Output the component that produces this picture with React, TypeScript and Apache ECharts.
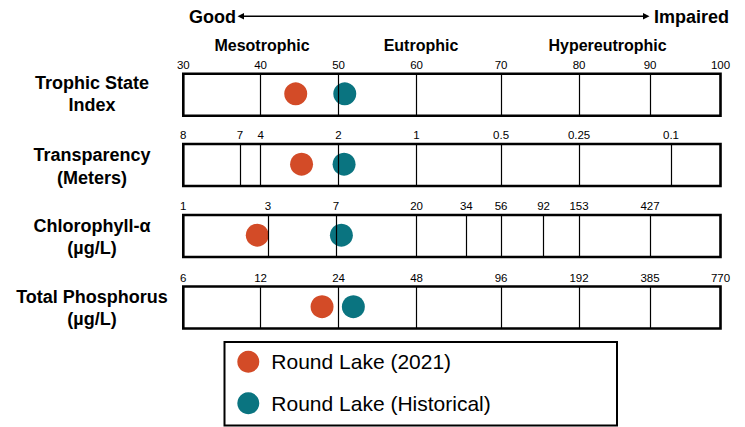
import React, { useEffect, useRef } from "react";
import * as echarts from "echarts";

// ---------- data ----------
const lakeNames = ["Round Lake (2021)", "Round Lake (Historical)"];
const rowTitles = ["Trophic State\nIndex", "Transparency\n(Meters)", "Chlorophyll-α\n(µg/L)", "Total Phosphorus\n(µg/L)"];
const zoneNames = ["Mesotrophic", "Eutrophic", "Hypereutrophic"];
const endLabels = ["Good", "Impaired"];

// tick labels per row and their position on the shared trophic-state scale (30..100)
const tsiLabels = ["30", "40", "50", "60", "70", "80", "90", "100"];
const tsiPos = [30, 40.07, 50.23, 60.39, 71.41, 81.57, 90.82, 100];
const secchiLabels = ["8", "7", "4", "2", "1", "0.5", "0.25", "0.1"];
const secchiPos = [30, 37.39, 40.07, 50.23, 60.39, 71.41, 81.57, 93.55];
const chlLabels = ["1", "3", "7", "20", "34", "56", "92", "153", "427"];
const chlPos = [30, 41.02, 49.9, 60.39, 66.88, 71.41, 76.94, 81.57, 90.82];
const tpLabels = ["6", "12", "24", "48", "96", "192", "385", "770"];
const tpPos = [30, 40.07, 50.23, 60.39, 71.41, 81.57, 90.82, 100];

// lake values expressed on the trophic-state scale, one per row
const round2021 = [44.65, 45.41, 39.64, 48.08];
const roundHistorical = [51.04, 50.95, 50.6, 52.16];

const rows = [
  { labels: tsiLabels, pos: tsiPos },
  { labels: secchiLabels, pos: secchiPos },
  { labels: chlLabels, pos: chlPos },
  { labels: tpLabels, pos: tpPos },
];

// ---------- style ----------
const FONT = '"Liberation Sans", Arial, Helvetica, sans-serif';
const ORANGE = "#D34B27";
const TEAL = "#0A7480";
const gridTops = [73.7, 144, 215, 286.5];
const gridLeft = 183.3;
const gridWidth = 537.2;
const gridHeight = 42;
const titleCenters = [94, 166.5, 237, 308];
const zoneCenters = [262, 421, 607.6];

export default function App() {
  const ref = useRef<HTMLDivElement>(null);

  useEffect(() => {
    if (!ref.current) return;
    const chart = echarts.init(ref.current, null, { renderer: "svg" });

    const grid = gridTops.map((top) => ({
      left: gridLeft,
      top,
      width: gridWidth,
      height: gridHeight,
      show: true,
      borderColor: "#000",
      borderWidth: 2.6,
      backgroundColor: "transparent",
    }));

    const xAxis = rows.map((r, i) => ({
      gridIndex: i,
      type: "value",
      min: 30,
      max: 100,
      position: "top",
      axisLine: { show: false },
      axisTick: { show: false },
      splitLine: { show: false },
      axisLabel: {
        customValues: r.pos,
        showMinLabel: true,
        showMaxLabel: true,
        formatter: (v: number) => {
          const k = r.pos.findIndex((p) => Math.abs(p - v) < 1e-6);
          return k >= 0 ? r.labels[k] : "";
        },
        fontSize: 11.5,
        color: "#000",
        fontFamily: FONT,
        margin: 3,
      },
    }));

    const yAxis = rows.map((_, i) => ({
      gridIndex: i,
      type: "value",
      min: 0,
      max: 1,
      show: false,
    }));

    const series: any[] = [];
    rows.forEach((r, i) => {
      const dividers = r.pos.filter((p) => p > 30 && p < 100);
      series.push({
        type: "scatter",
        name: "dividers" + i,
        xAxisIndex: i,
        yAxisIndex: i,
        data: [],
        silent: true,
        z: 1,
        markLine: {
          silent: true,
          symbol: ["none", "none"],
          label: { show: false },
          lineStyle: { color: "#000", width: 1.2, type: "solid" },
          emphasis: { disabled: true },
          data: dividers.map((v) => ({ xAxis: v })),
        },
      });
      series.push({
        type: "scatter",
        name: lakeNames[0],
        xAxisIndex: i,
        yAxisIndex: i,
        data: [[round2021[i], 0.52]],
        symbolSize: 23,
        itemStyle: { color: ORANGE, opacity: 1 },
        z: 3,
      });
      series.push({
        type: "scatter",
        name: lakeNames[1],
        xAxisIndex: i,
        yAxisIndex: i,
        data: [[roundHistorical[i], 0.52]],
        symbolSize: 23,
        itemStyle: { color: TEAL, opacity: 1 },
        z: 3,
      });
    });

    const txt = (text: string, x: number, y: number, size: number, weight: string, align: string, extra: any = {}) => ({
      type: "text",
      x,
      y,
      silent: true,
      style: {
        text,
        fill: "#000",
        fontSize: size,
        fontWeight: weight,
        fontFamily: FONT,
        align,
        verticalAlign: "middle",
        textAlign: align,
        textVerticalAlign: "middle",
        ...extra,
      },
    });

    const graphic: any[] = [
      txt(endLabels[0], 236, 16.5, 18, "bold", "right"),
      txt(endLabels[1], 654, 16.5, 18, "bold", "left"),
      {
        type: "line",
        silent: true,
        shape: { x1: 241, y1: 16.3, x2: 645, y2: 16.3 },
        style: { stroke: "#000", lineWidth: 1.5 },
      },
      {
        type: "polygon",
        silent: true,
        shape: { points: [[237.5, 16.3], [244, 13], [244, 19.6]] },
        style: { fill: "#000" },
      },
      {
        type: "polygon",
        silent: true,
        shape: { points: [[649.5, 16.3], [643, 13], [643, 19.6]] },
        style: { fill: "#000" },
      },
      ...zoneNames.map((z, i) => txt(z, zoneCenters[i], 45, 16, "bold", "center")),
      ...rowTitles.map((t, i) => txt(t, 92, titleCenters[i], 18, "bold", "center", { lineHeight: 22.5 })),
      {
        type: "rect",
        silent: true,
        shape: { x: 224.5, y: 342, width: 392.5, height: 83.5 },
        style: { fill: "none", stroke: "#000", lineWidth: 2 },
      },
    ];

    chart.setOption({
      animation: false,
      backgroundColor: "#fff",
      grid,
      xAxis,
      yAxis,
      series,
      graphic,
      legend: {
        data: lakeNames,
        orient: "vertical",
        left: 237.3,
        top: 350.7,
        padding: 0,
        itemWidth: 22,
        itemHeight: 22,
        itemGap: 19.6,
        icon: "circle",
        selectedMode: false,
        textStyle: {
          fontSize: 21,
          color: "#000",
          fontFamily: FONT,
          lineHeight: 22,
          padding: [0, 0, 0, 7],
        },
      },
    });

    return () => chart.dispose();
  }, []);

  return (
    <div
      ref={ref}
      style={{ position: "absolute", left: 0, top: 0, width: 745, height: 427 }}
    />
  );
}
